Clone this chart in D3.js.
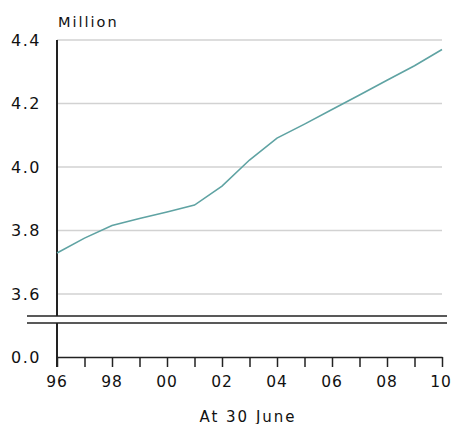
<!DOCTYPE html>
<html>
<head>
<meta charset="utf-8">
<script src="https://cdn.jsdelivr.net/npm/d3@7"></script>
<style>
  html, body { margin: 0; padding: 0; background: #fff; }
  svg { display: block; }
  text { font-family: "DejaVu Sans", Verdana, sans-serif; fill: #111; }
</style>
</head>
<body>
<svg id="chart" width="451" height="424"></svg>
<script>
// ---- data ----
const years = [1996, 1997, 1998, 1999, 2000, 2001, 2002, 2003, 2004, 2005, 2006, 2007, 2008, 2009, 2010];
const population = [3.729, 3.776, 3.816, 3.838, 3.858, 3.880, 3.940, 4.022, 4.091, 4.135, 4.181, 4.227, 4.273, 4.319, 4.370];
const yTicks = [3.6, 3.8, 4.0, 4.2, 4.4];
const xLabelYears = [1996, 1998, 2000, 2002, 2004, 2006, 2008, 2010];
const unitLabel = "Million";
const xTitle = "At 30 June";

// ---- layout ----
const svg = d3.select("#chart");
const x = d3.scaleLinear().domain([1996, 2010]).range([57, 442]);
const y = d3.scaleLinear().domain([3.6, 4.4]).range([294, 40]);
const yLow = d3.scaleLinear().domain([0, 1]).range([357, 40]);
const breakTop = 316, breakBottom = 323;

// gridlines
svg.append("g").selectAll("line").data(yTicks).join("line")
  .attr("x1", x(1996)).attr("x2", x(2010))
  .attr("y1", d => y(d)).attr("y2", d => y(d))
  .attr("stroke", "#d2d2d2").attr("stroke-width", 1.5);

// y tick labels
const fmt = d3.format(".1f");
svg.append("g").selectAll("text").data(yTicks).join("text")
  .attr("x", 41).attr("y", d => y(d)).attr("dy", "0.36em")
  .attr("text-anchor", "end").attr("font-size", 16).attr("letter-spacing", 1.5)
  .text(d => fmt(d));
svg.append("text")
  .attr("x", 41).attr("y", yLow(0)).attr("dy", "0.36em")
  .attr("text-anchor", "end").attr("font-size", 16).attr("letter-spacing", 1.5)
  .text(fmt(0));

// unit label
svg.append("text").attr("x", 58).attr("y", 26.5)
  .attr("font-size", 14.5).attr("letter-spacing", 2)
  .text(unitLabel);

// axis vertical line (broken)
svg.append("line").attr("x1", x(1996)).attr("x2", x(1996))
  .attr("y1", y(4.4)).attr("y2", breakTop)
  .attr("stroke", "#222").attr("stroke-width", 2);
svg.append("line").attr("x1", x(1996)).attr("x2", x(1996))
  .attr("y1", breakBottom).attr("y2", yLow(0) + 10)
  .attr("stroke", "#222").attr("stroke-width", 2);

// break lines
[breakTop, breakBottom].forEach(v => {
  svg.append("line").attr("x1", 27).attr("x2", 447)
    .attr("y1", v).attr("y2", v)
    .attr("stroke", "#222").attr("stroke-width", 1.5);
});

// x axis at 0
const xAxis = d3.axisBottom(x)
  .tickValues(years)
  .tickSize(10)
  .tickSizeOuter(0)
  .tickFormat(d => xLabelYears.includes(d) ? String(d).slice(2) : "");
const gx = svg.append("g").attr("transform", `translate(0,${yLow(0)})`).call(xAxis);
gx.select(".domain").attr("stroke", "#222").attr("stroke-width", 1.5);
gx.selectAll(".tick line").attr("stroke", "#222").attr("stroke-width", 1.5);
gx.selectAll(".tick text")
  .attr("font-family", "DejaVu Sans, Verdana, sans-serif")
  .attr("font-size", 15.5).attr("letter-spacing", 1)
  .attr("fill", "#111").attr("y", 19).attr("dx", d => d === 2010 ? -1.5 : -0.5);

// x title
svg.append("text").attr("x", 248).attr("y", 421.5)
  .attr("text-anchor", "middle").attr("font-size", 15).attr("letter-spacing", 2)
  .text(xTitle);

// line
const line = d3.line().x((d, i) => x(years[i])).y(d => y(d));
svg.append("path").datum(population)
  .attr("d", line)
  .attr("fill", "none").attr("stroke", "#5fa3a3").attr("stroke-width", 1.6);
</script>
</body>
</html>
